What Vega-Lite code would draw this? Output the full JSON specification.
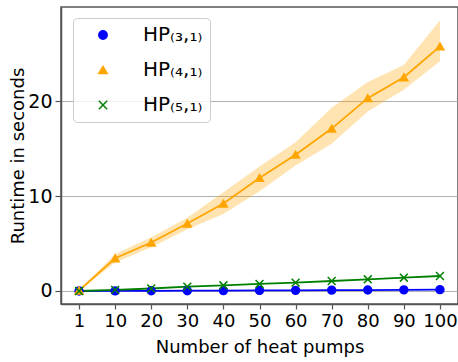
{
  "$schema": "https://vega.github.io/schema/vega-lite/v6.json",
  "width": 397,
  "height": 297,
  "autosize": {"type": "none"},
  "padding": {"left": 61, "top": 7, "right": 0, "bottom": 58},
  "config": {
    "font": "DejaVu Sans",
    "view": {"stroke": "#555", "strokeWidth": 1.5},
    "axis": {"labelColor": "#000", "titleColor": "#000", "titleFontWeight": "normal", "domainColor": "#555", "domainWidth": 1.5, "tickColor": "#555", "tickWidth": 1.2}
  },
  "data": {
    "values": [
      {"series": "HP₍₃,₁₎", "n": 1, "y": 0.0},
      {"series": "HP₍₃,₁₎", "n": 10, "y": 0.01},
      {"series": "HP₍₃,₁₎", "n": 20, "y": 0.02},
      {"series": "HP₍₃,₁₎", "n": 30, "y": 0.03},
      {"series": "HP₍₃,₁₎", "n": 40, "y": 0.04},
      {"series": "HP₍₃,₁₎", "n": 50, "y": 0.06},
      {"series": "HP₍₃,₁₎", "n": 60, "y": 0.07},
      {"series": "HP₍₃,₁₎", "n": 70, "y": 0.09},
      {"series": "HP₍₃,₁₎", "n": 80, "y": 0.1},
      {"series": "HP₍₃,₁₎", "n": 90, "y": 0.12},
      {"series": "HP₍₃,₁₎", "n": 100, "y": 0.14},
      {"series": "HP₍₄,₁₎", "n": 1, "y": 0.05, "lo": 0.0, "hi": 0.1},
      {"series": "HP₍₄,₁₎", "n": 10, "y": 3.45, "lo": 3.0, "hi": 3.9},
      {"series": "HP₍₄,₁₎", "n": 20, "y": 5.1, "lo": 4.6, "hi": 5.65},
      {"series": "HP₍₄,₁₎", "n": 30, "y": 7.1, "lo": 6.5, "hi": 7.7},
      {"series": "HP₍₄,₁₎", "n": 40, "y": 9.2, "lo": 8.1, "hi": 10.4},
      {"series": "HP₍₄,₁₎", "n": 50, "y": 11.9, "lo": 10.5, "hi": 13.1},
      {"series": "HP₍₄,₁₎", "n": 60, "y": 14.35, "lo": 13.2, "hi": 15.65},
      {"series": "HP₍₄,₁₎", "n": 70, "y": 17.1, "lo": 15.5, "hi": 19.3},
      {"series": "HP₍₄,₁₎", "n": 80, "y": 20.3, "lo": 18.9, "hi": 22.0},
      {"series": "HP₍₄,₁₎", "n": 90, "y": 22.5, "lo": 21.2, "hi": 23.8},
      {"series": "HP₍₄,₁₎", "n": 100, "y": 25.75, "lo": 24.2, "hi": 28.5},
      {"series": "HP₍₅,₁₎", "n": 1, "y": 0.0},
      {"series": "HP₍₅,₁₎", "n": 10, "y": 0.12},
      {"series": "HP₍₅,₁₎", "n": 20, "y": 0.26},
      {"series": "HP₍₅,₁₎", "n": 30, "y": 0.46},
      {"series": "HP₍₅,₁₎", "n": 40, "y": 0.6},
      {"series": "HP₍₅,₁₎", "n": 50, "y": 0.74},
      {"series": "HP₍₅,₁₎", "n": 60, "y": 0.88},
      {"series": "HP₍₅,₁₎", "n": 70, "y": 1.05},
      {"series": "HP₍₅,₁₎", "n": 80, "y": 1.23},
      {"series": "HP₍₅,₁₎", "n": 90, "y": 1.4},
      {"series": "HP₍₅,₁₎", "n": 100, "y": 1.58}
    ]
  },
  "encoding": {
    "x": {
      "field": "n", "type": "ordinal", "sort": "ascending",
      "axis": {"title": "Number of heat pumps", "labelAngle": 0, "labelFontSize": 18, "titleFontSize": 18, "grid": false, "tickSize": 5, "labelPadding": 3, "titlePadding": 8}
    },
    "y": {"field": "y", "type": "quantitative"}
  },
  "layer": [
    {
      "transform": [{"filter": "isValid(datum.lo)"}],
      "mark": {"type": "area", "color": "#ffa500", "opacity": 0.3},
      "encoding": {
        "y": {
          "field": "lo", "type": "quantitative",
          "scale": {"domain": [-1.37, 29.9], "nice": false, "zero": false},
          "axis": {"title": "Runtime in seconds", "values": [0, 10, 20], "labelFontSize": 19, "titleFontSize": 18, "grid": true, "gridColor": "#b0b0b0", "gridWidth": 1, "tickSize": 6, "labelPadding": 3, "titlePadding": 0}
        },
        "y2": {"field": "hi"}
      }
    },
    {
      "transform": [{"filter": "datum.series === 'HP₍₃,₁₎'"}],
      "mark": {"type": "line", "strokeWidth": 1.8, "color": "#0000ff"},
      "encoding": {}
    },
    {
      "transform": [{"filter": "datum.series === 'HP₍₄,₁₎'"}],
      "mark": {"type": "line", "strokeWidth": 1.8, "color": "#ffa500"},
      "encoding": {}
    },
    {
      "transform": [{"filter": "datum.series === 'HP₍₅,₁₎'"}],
      "mark": {"type": "line", "strokeWidth": 1.8, "color": "#008000"},
      "encoding": {}
    },
    {
      "mark": {"type": "point", "filled": true, "size": 62, "strokeWidth": 1.5, "opacity": 1},
      "encoding": {
        "color": {
          "field": "series", "type": "nominal",
          "scale": {"domain": ["HP₍₃,₁₎", "HP₍₄,₁₎", "HP₍₅,₁₎"], "range": ["#0000ff", "#ffa500", "#008000"]},
          "legend": {
            "title": null, "orient": "none", "legendX": 12, "legendY": 11,
            "labelFontSize": 20, "labelColor": "#000", "symbolSize": 70, "symbolStrokeWidth": 1.5,
            "padding": 7, "rowPadding": 15, "symbolOffset": 13, "labelOffset": 30,
            "fillColor": "rgba(255,255,255,0.8)", "strokeColor": "#cccccc", "cornerRadius": 4
          }
        },
        "stroke": {"field": "series", "type": "nominal", "scale": {"domain": ["HP₍₃,₁₎", "HP₍₄,₁₎", "HP₍₅,₁₎"], "range": ["#0000ff", "#ffa500", "#008000"]}, "legend": null},
        "shape": {
          "field": "series", "type": "nominal",
          "scale": {"domain": ["HP₍₃,₁₎", "HP₍₄,₁₎", "HP₍₅,₁₎"], "range": ["circle", "triangle-up", "M-1,-1L1,1M-1,1L1,-1"]}
        }
      }
    }
  ]
}
